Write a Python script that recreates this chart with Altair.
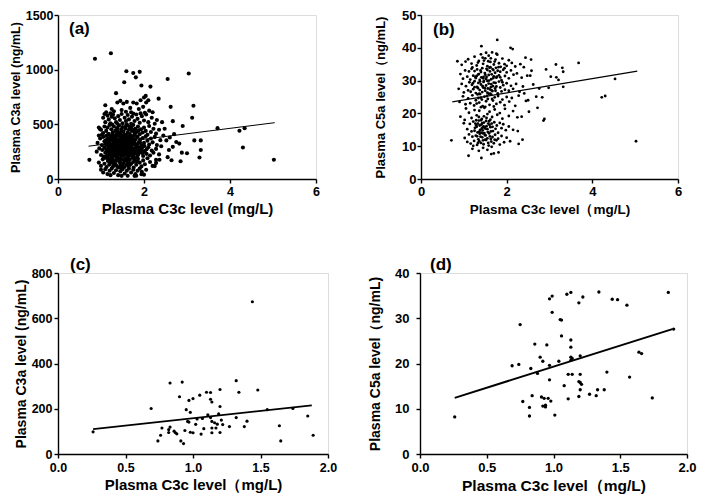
import altair as alt
import pandas as pd

FONT = "Liberation Sans"

# ---------------- panel (a): C3c vs C3a (all) ----------------
a_points = [
    # outliers / sparse
    (0.86, 1100), (1.23, 1150), (0.73, 175), (1.59, 985), (1.75, 970), (1.90, 980), (1.81, 930),
    (1.54, 885), (1.94, 855), (2.15, 845), (2.55, 915), (3.04, 965), (1.35, 785), (2.62, 660),
    (3.15, 670), (3.12, 560), (2.34, 735), (2.04, 760), (1.10, 675), (2.90, 485), (2.67, 529),
    (3.71, 465), (4.22, 441), (4.34, 465), (4.30, 288), (5.02, 176), (3.17, 353), (3.32, 353),
    (3.32, 265), (3.29, 197), (2.88, 241), (3.00, 235), (2.64, 171), (2.85, 162), (2.82, 324),
    (2.75, 338), (2.45, 397), (2.52, 353), (2.58, 265), (2.67, 294), (2.36, 176), (2.28, 147),
    (2.25, 118), (1.48, 29), (1.78, 29), (1.94, 44), (0.98, 456), (0.95, 397), (2.42, 520),
    (2.48, 460), (2.70, 410), (2.55, 200), (2.40, 300), (2.60, 380),
    # y 600-750
    (1.12, 610), (1.25, 640), (1.38, 700), (1.45, 715), (1.52, 690), (1.60, 705), (1.68, 650),
    (1.75, 700), (1.83, 690), (1.92, 720), (2.00, 745), (2.05, 700), (2.10, 720), (1.30, 620),
    (1.48, 630), (1.58, 615), (1.70, 610), (1.88, 640), (1.98, 660), (2.12, 625), (2.20, 610),
    (1.22, 600), (2.02, 605),
    # y 500-600
    (1.05, 560), (1.10, 520), (1.15, 580), (1.18, 545), (1.22, 510), (1.28, 590), (1.32, 555),
    (1.35, 520), (1.40, 575), (1.44, 540), (1.48, 595), (1.50, 510), (1.55, 560), (1.58, 530),
    (1.62, 585), (1.65, 545), (1.70, 505), (1.72, 570), (1.78, 530), (1.82, 590), (1.85, 550),
    (1.90, 515), (1.95, 575), (2.00, 535), (2.05, 590), (2.10, 520), (2.18, 560), (2.25, 505),
    (1.38, 505), (1.25, 570), (1.60, 500), (1.92, 600), (2.30, 540), (1.08, 595), (1.75, 598),
    # y 400-500
    (1.00, 450), (1.05, 420), (1.08, 480), (1.12, 440), (1.15, 470), (1.18, 410), (1.20, 495),
    (1.24, 455), (1.27, 425), (1.30, 480), (1.33, 440), (1.35, 405), (1.38, 465), (1.40, 430),
    (1.42, 490), (1.45, 415), (1.47, 455), (1.50, 475), (1.52, 435), (1.55, 405), (1.57, 460),
    (1.60, 490), (1.62, 425), (1.65, 450), (1.67, 410), (1.70, 470), (1.72, 440), (1.75, 495),
    (1.78, 420), (1.80, 460), (1.83, 430), (1.86, 480), (1.90, 410), (1.93, 455), (1.97, 425),
    (2.00, 470), (2.04, 440), (2.08, 405), (2.12, 485), (2.16, 430), (2.22, 460), (2.28, 415),
    (2.35, 450), (0.95, 470), (1.02, 405), (1.36, 445), (1.58, 485), (1.48, 400), (1.26, 498),
    (1.88, 445),
    # y 300-400
    (0.92, 330), (0.98, 370), (1.02, 310), (1.05, 385), (1.08, 345), (1.10, 320), (1.12, 395),
    (1.14, 360), (1.16, 305), (1.18, 375), (1.20, 340), (1.22, 315), (1.24, 390), (1.26, 355),
    (1.28, 325), (1.30, 380), (1.32, 345), (1.34, 300), (1.36, 365), (1.38, 335), (1.40, 395),
    (1.42, 310), (1.44, 350), (1.46, 385), (1.48, 325), (1.50, 360), (1.52, 305), (1.54, 375),
    (1.56, 340), (1.58, 390), (1.60, 315), (1.62, 355), (1.64, 330), (1.66, 380), (1.68, 305),
    (1.70, 345), (1.72, 370), (1.74, 320), (1.76, 395), (1.78, 340), (1.80, 365), (1.82, 310),
    (1.85, 385), (1.88, 335), (1.91, 360), (1.94, 305), (1.97, 375), (2.00, 330), (2.04, 390),
    (2.08, 350), (2.12, 315), (2.16, 370), (2.20, 335), (2.25, 385), (2.30, 310), (2.38, 355),
    (1.35, 320), (1.45, 335), (1.55, 320), (1.65, 360), (1.25, 370), (1.75, 350), (1.15, 330),
    (1.85, 320), (1.40, 355), (1.60, 380), (1.50, 330), (1.30, 355), (1.70, 325), (1.20, 365),
    # y 200-300
    (0.90, 250), (0.96, 280), (1.00, 220), (1.03, 265), (1.06, 205), (1.08, 290), (1.10, 240),
    (1.12, 270), (1.14, 215), (1.16, 255), (1.18, 285), (1.20, 230), (1.22, 260), (1.24, 205),
    (1.26, 295), (1.28, 245), (1.30, 275), (1.32, 220), (1.34, 250), (1.36, 285), (1.38, 210),
    (1.40, 265), (1.42, 235), (1.44, 295), (1.46, 225), (1.48, 270), (1.50, 245), (1.52, 210),
    (1.54, 280), (1.56, 255), (1.58, 225), (1.60, 290), (1.62, 240), (1.64, 270), (1.66, 215),
    (1.68, 260), (1.70, 285), (1.72, 230), (1.74, 255), (1.76, 205), (1.78, 275), (1.80, 240),
    (1.83, 295), (1.86, 220), (1.89, 265), (1.92, 245), (1.95, 280), (1.98, 210), (2.02, 255),
    (2.06, 230), (2.10, 290), (2.14, 215), (2.18, 260), (2.22, 240), (2.28, 275), (2.35, 225),
    (1.33, 275), (1.43, 255), (1.53, 265), (1.63, 205), (1.73, 275), (1.27, 230), (1.47, 245),
    (1.57, 290), (1.67, 245), (1.37, 235), (1.87, 250), (1.97, 235), (1.17, 220), (1.77, 230),
    (1.52, 235),
    # y 100-200
    (0.95, 150), (1.00, 120), (1.04, 180), (1.08, 140), (1.10, 195), (1.13, 110), (1.16, 165),
    (1.19, 130), (1.22, 185), (1.25, 150), (1.28, 115), (1.31, 170), (1.34, 135), (1.37, 195),
    (1.40, 105), (1.43, 160), (1.46, 125), (1.49, 180), (1.52, 145), (1.55, 110), (1.58, 190),
    (1.61, 155), (1.64, 120), (1.67, 175), (1.70, 140), (1.73, 195), (1.76, 105), (1.79, 165),
    (1.82, 130), (1.86, 185), (1.90, 150), (1.94, 115), (1.98, 170), (2.02, 135), (2.08, 190),
    (2.14, 155), (2.20, 120), (2.28, 175), (1.35, 165), (1.45, 145), (1.55, 170), (1.65, 145),
    (1.20, 160), (1.50, 120), (1.60, 130), (1.40, 185), (1.75, 155), (1.30, 140), (1.85, 160),
    (1.15, 190),
    # y 20-100
    (1.00, 85), (1.05, 60), (1.10, 90), (1.15, 45), (1.20, 75), (1.25, 95), (1.30, 55),
    (1.35, 80), (1.40, 35), (1.45, 70), (1.50, 90), (1.55, 50), (1.60, 75), (1.65, 95),
    (1.70, 60), (1.75, 85), (1.80, 45), (1.85, 75), (1.90, 95), (1.95, 65), (2.00, 40),
    (1.22, 35), (1.62, 30), (1.82, 30), (2.05, 85),
    # dense core
    (1.27, 405), (1.33, 385), (1.39, 415), (1.46, 372), (1.53, 398), (1.59, 342), (1.64, 412),
    (1.71, 388), (1.79, 402), (1.31, 262), (1.41, 282), (1.51, 292), (1.61, 262), (1.71, 298),
    (1.81, 272), (1.29, 312), (1.39, 322), (1.49, 342), (1.59, 362), (1.69, 372), (1.79, 312),
    (1.34, 212), (1.44, 192), (1.54, 222), (1.64, 182), (1.74, 212), (1.84, 202), (1.24, 272),
    (1.94, 262), (1.49, 262), (1.57, 172), (1.67, 128), (1.47, 98), (1.37, 118), (1.27, 178),
    (1.77, 188), (1.87, 228), (1.57, 402), (1.47, 432), (1.37, 462), (1.67, 478), (1.77, 452),
    (1.17, 412), (1.21, 292), (1.11, 352), (1.91, 332), (2.01, 302), (2.06, 272), (1.43, 305),
    (1.53, 355), (1.63, 300), (1.73, 340), (1.33, 355), (1.58, 245), (1.48, 215), (1.68, 230),
    (1.38, 250), (1.28, 205), (1.88, 290), (1.98, 300),
]
a_line_x = [0.71, 5.04]
a_line_y = [300, 515]

# ---------------- panel (b): C3c vs C5a (all) ----------------
b_points = [
    # outliers / sparse
    (0.71, 11.8), (0.85, 35.9), (1.41, 40.5), (1.78, 42.4), (2.09, 40.0), (2.14, 39.6),
    (2.44, 37.0), (2.57, 36.4), (3.68, 35.4), (3.15, 34.9), (3.30, 33.9), (3.32, 32.7),
    (2.92, 33.4), (3.03, 31.2), (3.21, 30.2), (3.16, 31.0), (3.32, 28.1), (2.98, 27.8),
    (2.76, 27.6), (2.83, 24.9), (2.69, 25.1), (2.72, 21.7), (2.52, 20.5), (2.41, 26.1),
    (2.37, 12.0), (2.28, 10.7), (2.26, 14.6), (2.88, 18.3), (2.86, 17.8), (4.22, 24.9),
    (4.30, 25.3), (4.53, 30.5), (5.02, 11.5), (1.41, 6.4), (1.11, 7.1), (1.64, 7.6),
    (1.70, 7.8), (1.81, 8.1), (2.55, 31.5), (2.62, 28.8), (2.50, 24.0), (2.58, 33.0),
    # y 34-38
    (1.10, 36.5), (1.18, 35.2), (1.25, 37.3), (1.30, 34.6), (1.35, 36.0), (1.40, 38.0),
    (1.45, 35.1), (1.50, 36.8), (1.55, 34.4), (1.58, 37.6), (1.62, 35.7), (1.66, 38.6),
    (1.70, 34.9), (1.74, 36.4), (1.78, 37.9), (1.82, 35.3), (1.86, 34.2), (1.90, 36.7),
    (1.95, 35.0), (2.00, 34.5), (2.05, 36.2), (2.12, 35.4), (2.20, 34.3), (1.20, 34.0),
    (1.44, 37.0), (1.62, 34.1), (1.52, 38.5), (0.95, 34.8), (1.04, 35.8), (1.76, 38.2),
    (2.32, 35.0), (2.40, 34.1),
    # y 30-34
    (0.92, 32.0), (0.98, 30.6), (1.03, 33.1), (1.08, 31.2), (1.12, 32.8), (1.15, 30.3),
    (1.18, 33.6), (1.22, 31.5), (1.25, 32.9), (1.28, 30.8), (1.31, 33.4), (1.34, 31.9),
    (1.37, 30.2), (1.40, 32.6), (1.43, 33.8), (1.46, 31.1), (1.49, 32.3), (1.52, 30.5),
    (1.55, 33.2), (1.58, 31.7), (1.61, 32.8), (1.64, 30.4), (1.67, 33.5), (1.70, 31.3),
    (1.73, 32.4), (1.76, 30.9), (1.79, 33.0), (1.82, 31.6), (1.85, 32.7), (1.88, 30.1),
    (1.92, 33.3), (1.96, 31.4), (2.00, 32.5), (2.05, 30.7), (2.10, 33.1), (2.16, 31.8),
    (2.24, 32.2), (2.35, 30.9), (2.48, 31.5), (1.35, 32.0), (1.50, 31.8), (1.65, 31.9),
    (1.45, 30.7), (1.60, 33.9), (1.30, 31.4), (1.75, 33.9),
    # y 26-30
    (0.88, 27.5), (0.95, 29.0), (1.00, 26.4), (1.05, 28.3), (1.10, 27.0), (1.13, 29.5),
    (1.16, 26.6), (1.19, 28.7), (1.22, 27.4), (1.25, 29.8), (1.28, 26.2), (1.31, 28.1),
    (1.34, 29.3), (1.37, 27.1), (1.40, 28.8), (1.43, 26.5), (1.46, 29.6), (1.49, 27.7),
    (1.52, 28.5), (1.55, 26.3), (1.58, 29.1), (1.61, 27.3), (1.64, 28.9), (1.67, 26.8),
    (1.70, 29.4), (1.73, 27.6), (1.76, 28.2), (1.79, 26.1), (1.82, 29.7), (1.85, 27.9),
    (1.88, 26.7), (1.92, 28.6), (1.96, 27.2), (2.00, 29.2), (2.05, 26.9), (2.10, 28.4),
    (2.15, 27.5), (2.22, 29.0), (2.30, 26.6), (2.38, 28.2), (1.36, 26.0), (1.55, 29.9),
    (1.45, 27.9), (1.65, 27.0), (1.25, 28.0),
    # y 22-26
    (0.90, 23.5), (0.98, 25.2), (1.04, 22.8), (1.10, 24.6), (1.15, 23.1), (1.20, 25.5),
    (1.24, 22.4), (1.28, 24.0), (1.32, 25.8), (1.36, 23.3), (1.40, 24.8), (1.44, 22.2),
    (1.48, 25.1), (1.52, 23.7), (1.56, 24.4), (1.60, 22.6), (1.64, 25.7), (1.68, 23.9),
    (1.72, 24.9), (1.76, 22.9), (1.80, 25.3), (1.85, 23.4), (1.90, 24.2), (1.95, 22.5),
    (2.00, 25.0), (2.06, 23.6), (2.12, 24.7), (2.20, 22.3), (2.28, 25.4), (2.45, 23.8),
    (1.38, 25.9), (1.58, 26.0), (1.70, 22.1), (1.50, 22.0), (1.30, 23.0),
    # y 18-22
    (0.92, 19.0), (1.05, 21.5), (1.12, 20.2), (1.18, 18.6), (1.25, 21.0), (1.30, 19.4),
    (1.36, 20.8), (1.42, 18.3), (1.48, 21.7), (1.55, 19.8), (1.60, 20.5), (1.66, 18.9),
    (1.72, 21.2), (1.78, 19.6), (1.84, 20.1), (1.90, 18.4), (1.96, 21.4), (2.05, 19.2),
    (2.15, 20.7), (2.25, 18.8), (1.02, 18.0), (1.62, 18.1), (1.40, 21.9), (2.35, 19.0),
    # y 14-18
    (1.00, 17.0), (1.08, 15.2), (1.14, 16.8), (1.18, 14.5), (1.22, 17.5), (1.26, 15.6),
    (1.29, 16.4), (1.32, 14.2), (1.35, 17.8), (1.38, 15.0), (1.41, 16.6), (1.44, 14.8),
    (1.47, 17.2), (1.50, 15.4), (1.53, 16.1), (1.56, 14.3), (1.59, 17.6), (1.62, 15.8),
    (1.65, 16.9), (1.68, 14.6), (1.71, 17.3), (1.74, 15.3), (1.77, 16.3), (1.80, 14.1),
    (1.84, 17.1), (1.88, 15.5), (1.92, 16.7), (1.98, 14.9), (2.05, 16.0), (2.15, 15.0),
    (1.30, 15.9), (1.40, 17.9), (1.46, 16.0), (1.52, 17.7), (1.36, 14.4), (1.44, 15.7),
    (1.55, 15.2), (1.33, 16.9), (1.48, 14.0), (1.60, 16.5), (1.25, 14.7), (1.42, 15.4),
    # y 10-14
    (1.02, 12.5), (1.08, 11.3), (1.12, 13.6), (1.16, 10.8), (1.20, 12.9), (1.24, 11.6),
    (1.28, 13.2), (1.31, 10.4), (1.34, 12.1), (1.37, 13.8), (1.40, 11.0), (1.43, 12.7),
    (1.46, 10.6), (1.49, 13.4), (1.52, 11.9), (1.55, 12.4), (1.58, 10.2), (1.61, 13.0),
    (1.64, 11.4), (1.67, 12.8), (1.70, 10.9), (1.73, 13.5), (1.76, 11.8), (1.80, 12.3),
    (1.84, 10.5), (1.88, 13.1), (1.94, 11.2), (2.00, 12.6), (2.08, 11.5), (1.36, 11.5),
    (1.50, 12.0), (1.63, 12.2), (1.45, 13.9), (1.22, 10.1), (1.72, 12.0),
    # y 7-10
    (1.20, 9.2), (1.45, 9.5), (1.55, 8.9), (1.65, 9.8), (1.35, 8.6),
    # dense core
    (1.33, 35.5), (1.39, 33.1), (1.47, 36.1), (1.53, 33.6), (1.57, 35.9), (1.63, 36.8),
    (1.69, 33.2), (1.72, 35.8), (1.77, 31.2), (1.81, 34.1), (1.41, 31.0), (1.47, 29.9),
    (1.53, 31.1), (1.59, 30.0), (1.63, 28.0), (1.69, 30.8), (1.74, 29.3), (1.38, 29.7),
    (1.44, 28.3), (1.50, 26.9), (1.56, 27.6), (1.62, 26.0), (1.68, 28.3), (1.33, 27.7),
    (1.27, 31.1), (1.21, 29.2), (1.85, 31.0), (1.90, 29.5), (1.95, 33.8), (1.42, 24.2),
    (1.54, 25.3), (1.66, 24.4), (1.34, 24.7), (1.74, 26.9), (1.37, 16.3), (1.43, 17.0),
    (1.49, 15.8), (1.51, 13.3), (1.57, 16.9), (1.63, 14.5), (1.39, 12.9), (1.45, 11.8),
    (1.31, 13.0), (1.27, 16.9), (1.57, 11.0), (1.67, 15.9), (1.41, 14.1), (1.53, 18.6),
    (1.47, 19.1), (1.35, 18.9), (1.59, 13.9), (1.33, 11.0), (1.29, 17.9),
]
b_line_x = [0.73, 5.05]
b_line_y = [23.5, 32.9]

# ---------------- panel (c): C3c vs C3a (subgroup) ----------------
c_points = [
    (0.26, 98), (0.69, 201), (0.74, 58), (0.76, 83), (0.77, 115), (0.82, 108), (0.83, 119),
    (0.83, 314), (0.82, 95), (0.86, 101), (0.87, 94), (0.88, 89), (0.90, 253), (0.92, 318),
    (0.91, 58), (0.93, 46), (0.94, 104), (0.95, 196), (0.96, 144), (0.97, 141), (0.97, 237),
    (0.98, 184), (1.00, 245), (0.98, 96), (1.00, 94), (1.02, 131), (1.03, 155), (1.05, 260),
    (1.06, 88), (1.07, 157), (1.08, 112), (1.10, 273), (1.11, 173), (1.13, 272), (1.13, 242),
    (1.13, 161), (1.14, 144), (1.14, 115), (1.14, 230), (1.14, 94), (1.16, 138), (1.17, 115),
    (1.18, 132), (1.19, 177), (1.20, 285), (1.20, 210), (1.20, 95), (1.21, 150), (1.22, 130),
    (1.27, 121), (1.32, 161), (1.32, 324), (1.34, 273), (1.38, 121), (1.40, 145), (1.44, 673),
    (1.48, 283), (1.55, 196), (1.64, 125), (1.65, 58), (1.74, 201), (1.85, 168), (1.89, 83),
]
c_line_x = [0.26, 1.88]
c_line_y = [110, 215]

# ---------------- panel (d): C3c vs C5a (subgroup) ----------------
d_points = [
    (0.26, 8.2), (0.69, 19.5), (0.74, 19.8), (0.75, 28.6), (0.77, 11.6), (0.82, 8.4),
    (0.82, 10.3), (0.84, 12.9), (0.83, 18.9), (0.86, 24.3), (0.88, 17.8), (0.90, 21.4),
    (0.91, 12.6), (0.92, 20.5), (0.93, 12.3), (0.92, 10.6), (0.94, 10.4), (0.94, 10.8),
    (0.95, 24.1), (0.97, 34.3), (0.97, 16.4), (0.96, 12.3), (0.97, 19.6), (0.98, 11.7),
    (0.99, 31.3), (0.99, 34.9), (1.01, 8.6), (1.04, 20.5), (1.05, 29.7), (1.06, 29.6),
    (1.06, 26.1), (1.08, 15.1), (1.10, 35.3), (1.11, 17.6), (1.11, 12.2), (1.13, 35.7),
    (1.13, 25.2), (1.13, 23.6), (1.13, 21.4), (1.14, 21.1), (1.13, 20.7), (1.14, 17.6),
    (1.19, 33.4), (1.19, 16.0), (1.19, 12.7), (1.20, 17.6), (1.20, 15.8), (1.20, 14.2),
    (1.21, 15.4), (1.20, 21.7), (1.22, 34.7), (1.27, 13.2), (1.32, 12.9), (1.33, 14.2),
    (1.34, 35.8), (1.38, 14.2), (1.40, 18.1), (1.44, 34.2), (1.48, 34.1), (1.55, 32.9),
    (1.57, 17.0), (1.64, 22.5), (1.66, 22.2), (1.74, 12.4), (1.86, 35.7), (1.90, 27.6),
]
d_line_x = [0.26, 1.89]
d_line_y = [12.4, 27.6]

x_ticks_ab = [0, 2, 4, 6]
y_ticks_a = [0, 500, 1000, 1500]
y_ticks_b = [0, 10, 20, 30, 40, 50]
x_ticks_cd = [0.0, 0.5, 1.0, 1.5, 2.0]
y_ticks_c = [0, 200, 400, 600, 800]
y_ticks_d = [0, 10, 20, 30, 40]


def axis(values, fmt, title, lab_fs, tit_fs, tp, lp):
    return alt.Axis(
        values=values, format=fmt, title=title, grid=False,
        domainColor="black", tickColor="black", domainWidth=1.4, tickWidth=1.4, tickSize=4,
        labelFont=FONT, labelFontWeight="bold", labelFontSize=lab_fs, labelColor="black",
        labelPadding=lp, labelFlush=False,
        titleFont=FONT, titleFontWeight="bold", titleFontSize=tit_fs, titleColor="black",
        titlePadding=tp,
    )


def panel(pts, lx, ly, xdom, xax, ydom, yax, tag, w, h, size, lw, tag_x, tag_y):
    df = pd.DataFrame(pts, columns=["x", "y"])
    ldf = pd.DataFrame({"x": lx, "y": ly})
    xs = alt.Scale(domain=xdom, nice=False, zero=False)
    ys = alt.Scale(domain=ydom, nice=False, zero=False)
    dots = alt.Chart(df).mark_circle(size=size, color="black", opacity=1).encode(
        x=alt.X("x:Q", scale=xs, axis=xax), y=alt.Y("y:Q", scale=ys, axis=yax)
    )
    line = alt.Chart(ldf).mark_line(color="black", strokeWidth=lw).encode(
        x=alt.X("x:Q", scale=xs, axis=xax), y=alt.Y("y:Q", scale=ys, axis=yax)
    )
    txt = alt.Chart(pd.DataFrame({"t": [tag]})).mark_text(
        font=FONT, fontWeight="bold", fontSize=17, align="left", baseline="middle", color="black"
    ).encode(x=alt.value(tag_x), y=alt.value(tag_y), text="t:N")
    return alt.layer(dots, line, txt).properties(width=w, height=h)


A = panel(a_points, a_line_x, a_line_y, [0, 6],
          axis(x_ticks_ab, "d", "Plasma C3c level (mg/L)", 12.5, 15, 4, 2),
          [0, 1500], axis(y_ticks_a, "d", "Plasma C3a level (ng/mL)", 12.5, 12.5, 3, 1),
          "(a)", 258, 164, 17, 1, 11, 14)
B = panel(b_points, b_line_x, b_line_y, [0, 6],
          axis(x_ticks_ab, "d", "Plasma C3c level（mg/L)", 13, 13.5, 4, 2),
          [0, 50], axis(y_ticks_b, "d", "Plasma C5a level（ng/mL)", 13, 13, 14, 1),
          "(b)", 257, 164, 8, 1.3, 12, 15)
C = panel(c_points, c_line_x, c_line_y, [0, 2],
          axis(x_ticks_cd, ".1f", "Plasma C3c level（mg/L)", 12.5, 15, 4, 3),
          [0, 800], axis(y_ticks_c, "d", "Plasma C3a level (ng/mL)", 12.5, 14, 3, 2),
          "(c)", 270, 181, 10, 1.8, 12, -8)
D = panel(d_points, d_line_x, d_line_y, [0, 2],
          axis(x_ticks_cd, ".1f", "Plasma C3c level（mg/L)", 13, 15.5, 4, 3),
          [0, 40], axis(y_ticks_d, "d", "Plasma C5a level（ng/mL)", 13, 14, 12, 7),
          "(d)", 267, 181, 11, 2, 10, -8)

chart = alt.vconcat(
    alt.hconcat(A, B, spacing=54),
    alt.hconcat(C, D, spacing=30),
    spacing=38,
).properties(
    padding=0
).configure_view(stroke=None).configure(background="white")

chart.save("out.html", embed_options={"renderer": "svg", "actions": False})
